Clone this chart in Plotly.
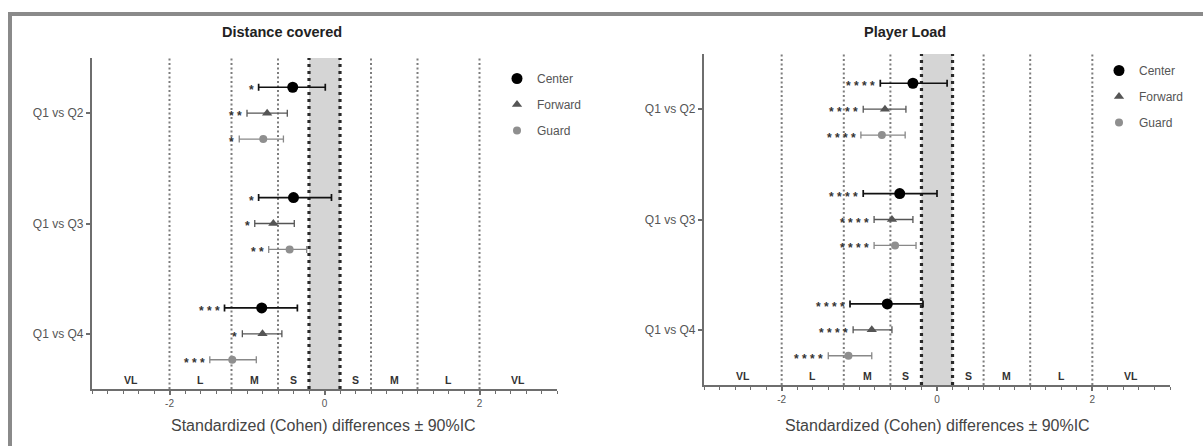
import plotly.graph_objects as go

# ---------------- data ----------------
comparisons = ["Q1 vs Q2", "Q1 vs Q3", "Q1 vs Q4"]
positions = ["Center", "Forward", "Guard"]

# Distance covered
dist_center_est = [-0.41, -0.40, -0.81]
dist_center_lo = [-0.85, -0.85, -1.29]
dist_center_hi = [0.01, 0.09, -0.35]
dist_center_sig = ["*", "*", "***"]

dist_forward_est = [-0.74, -0.66, -0.80]
dist_forward_lo = [-1.00, -0.90, -1.06]
dist_forward_hi = [-0.48, -0.39, -0.55]
dist_forward_sig = ["**", "*", "*"]

dist_guard_est = [-0.79, -0.45, -1.19]
dist_guard_lo = [-1.10, -0.72, -1.48]
dist_guard_hi = [-0.53, -0.23, -0.88]
dist_guard_sig = ["*", "**", "***"]

# Player Load
load_center_est = [-0.31, -0.48, -0.64]
load_center_lo = [-0.73, -0.95, -1.12]
load_center_hi = [0.13, 0.00, -0.18]
load_center_sig = ["****", "****", "****"]

load_forward_est = [-0.67, -0.58, -0.84]
load_forward_lo = [-0.95, -0.81, -1.08]
load_forward_hi = [-0.40, -0.31, -0.58]
load_forward_sig = ["****", "****", "****"]

load_guard_est = [-0.71, -0.54, -1.14]
load_guard_lo = [-0.98, -0.81, -1.40]
load_guard_hi = [-0.41, -0.27, -0.84]
load_guard_sig = ["****", "****", "****"]

thresholds = [-2.0, -1.2, -0.6, -0.2, 0.2, 0.6, 1.2, 2.0]
band_labels = ["VL", "L", "M", "S", "S", "M", "L", "VL"]
band_centers = [-2.5, -1.6, -0.9, -0.4, 0.4, 0.9, 1.6, 2.5]
x_ticks = [-2, 0, 2]

panels = [
    dict(title="Distance covered",
         data={"Center": (dist_center_est, dist_center_lo, dist_center_hi, dist_center_sig),
               "Forward": (dist_forward_est, dist_forward_lo, dist_forward_hi, dist_forward_sig),
               "Guard": (dist_guard_est, dist_guard_lo, dist_guard_hi, dist_guard_sig)}),
    dict(title="Player Load",
         data={"Center": (load_center_est, load_center_lo, load_center_hi, load_center_sig),
               "Forward": (load_forward_est, load_forward_lo, load_forward_hi, load_forward_sig),
               "Guard": (load_guard_est, load_guard_lo, load_guard_hi, load_guard_sig)}),
]

# ---------------- layout / styles ----------------
W, H = 1203, 446
FONT = "Arial, Liberation Sans, sans-serif"

def px_x(p):
    return p / W

def px_y(p):
    return 1 - p / H

layout_geo = [
    dict(xdom=[px_x(92), px_x(557)], ydom=[px_y(389), px_y(58)], title_x=282,
         leg_x=497, leg_y=64, xtitle_x=323),
    dict(xdom=[px_x(704), px_x(1170)], ydom=[px_y(385), px_y(54)], title_x=905,
         leg_x=1099, leg_y=56, xtitle_x=937),
]

row_offset = {"Center": -0.235, "Forward": 0.0, "Guard": 0.235}
styles = {
    "Center": dict(symbol="circle", size=11, color="#000000", ebar="#111111", ew=1.7),
    "Forward": dict(symbol="triangle-up", size=9, color="#555555", ebar="#555555", ew=1.3),
    "Guard": dict(symbol="circle", size=8, color="#8f8f8f", ebar="#888888", ew=1.3),
}

fig = go.Figure()
annotations = []
shapes = []

for i, (panel, geo) in enumerate(zip(panels, layout_geo)):
    sfx = "" if i == 0 else str(i + 1)
    xref, yref = "x" + sfx, "y" + sfx
    legend_name = "legend" + sfx

    # shaded trivial band and threshold lines
    shapes.append(dict(type="rect", xref=xref, yref=yref + " domain",
                       x0=thresholds[3], x1=thresholds[4], y0=0, y1=1,
                       fillcolor="#d5d5d5", line=dict(width=0), layer="below"))
    for t in thresholds:
        heavy = abs(t) < 0.3
        shapes.append(dict(type="line", xref=xref, yref=yref + " domain",
                           x0=t, x1=t, y0=0, y1=1, layer="below",
                           line=dict(color="#2a2a2a" if heavy else "#7d7d7d",
                                     width=3.2 if heavy else 2,
                                     dash="3px,4px" if heavy else "2px,2.5px")))

    for pos in positions:
        est, lo, hi, sig = panel["data"][pos]
        st = styles[pos]
        ys = [k + row_offset[pos] for k in range(len(comparisons))]
        fig.add_trace(go.Scatter(
            x=est, y=ys, mode="markers", name=pos,
            xaxis=xref, yaxis=yref, legend=legend_name, legendgroup=pos + sfx,
            marker=dict(symbol=st["symbol"], size=st["size"], color=st["color"],
                        line=dict(width=0)),
            error_x=dict(type="data", symmetric=False,
                         array=[h - e for h, e in zip(hi, est)],
                         arrayminus=[e - l for e, l in zip(est, lo)],
                         color=st["ebar"], thickness=st["ew"], width=3.5),
        ))
        for l, y, s in zip(lo, ys, sig):
            annotations.append(dict(x=l, y=y, xref=xref, yref=yref, text="<b>" + " ".join(s) + "</b>",
                                    showarrow=False, xanchor="right", yanchor="middle",
                                    xshift=-3, yshift=-3,
                                    font=dict(family=FONT, size=12, color="#333333")))

    # band labels
    for c, lab in zip(band_centers, band_labels):
        annotations.append(dict(x=c, y=0, xref=xref, yref=yref + " domain", text=f"<b>{lab}</b>",
                                showarrow=False, xanchor="center", yanchor="bottom", yshift=1,
                                font=dict(family=FONT, size=10.5, color="#333333")))

    # titles
    annotations.append(dict(x=px_x(geo["title_x"]), y=px_y(32), xref="paper", yref="paper",
                            text=f"<b>{panel['title']}</b>", showarrow=False,
                            xanchor="center", yanchor="middle",
                            font=dict(family=FONT, size=14.5, color="#222222")))
    annotations.append(dict(x=px_x(geo["xtitle_x"]), y=px_y(425), xref="paper", yref="paper",
                            text="Standardized (Cohen) differences ± 90%IC", showarrow=False,
                            xanchor="center", yanchor="middle",
                            font=dict(family=FONT, size=16, color="#444444")))

    axis_common = dict(showgrid=False, zeroline=False, showline=True, linecolor="#6e6e6e",
                       linewidth=2.2, ticks="outside", tickcolor="#6e6e6e", tickwidth=1.5,
                       ticklen=4)
    fig.update_layout(**{
        "xaxis" + sfx: dict(domain=geo["xdom"], range=[-3, 3], tickvals=x_ticks,
                            ticktext=[str(v) for v in x_ticks], anchor=yref,
                            tickfont=dict(family=FONT, size=10, color="#555555"),
                            minor=dict(dtick=0.2, tick0=0, ticks="outside", ticklen=3,
                                       tickcolor="#6e6e6e", tickwidth=1.2, showgrid=False),
                            **axis_common),
        "yaxis" + sfx: dict(domain=geo["ydom"], range=[2.5, -0.5],
                            tickvals=list(range(len(comparisons))), ticktext=comparisons,
                            anchor=xref,
                            tickfont=dict(family=FONT, size=12, color="#555555"),
                            **axis_common),
        legend_name: dict(x=px_x(geo["leg_x"]), y=px_y(geo["leg_y"]), xanchor="left",
                          yanchor="top", bgcolor="rgba(0,0,0,0)", tracegroupgap=7,
                          font=dict(family=FONT, size=12, color="#555555")),
    })

# outer frame
shapes.append(dict(type="rect", xref="paper", yref="paper",
                   x0=px_x(10), x1=px_x(1215), y0=px_y(14), y1=px_y(470),
                   line=dict(color="#8a8a8a", width=4), fillcolor="rgba(0,0,0,0)"))

fig.update_layout(width=W, height=H, margin=dict(l=0, r=0, t=0, b=0),
                  paper_bgcolor="white", plot_bgcolor="rgba(0,0,0,0)",
                  showlegend=True, shapes=shapes, annotations=annotations,
                  font=dict(family=FONT))

fig.write_html("out.html")
